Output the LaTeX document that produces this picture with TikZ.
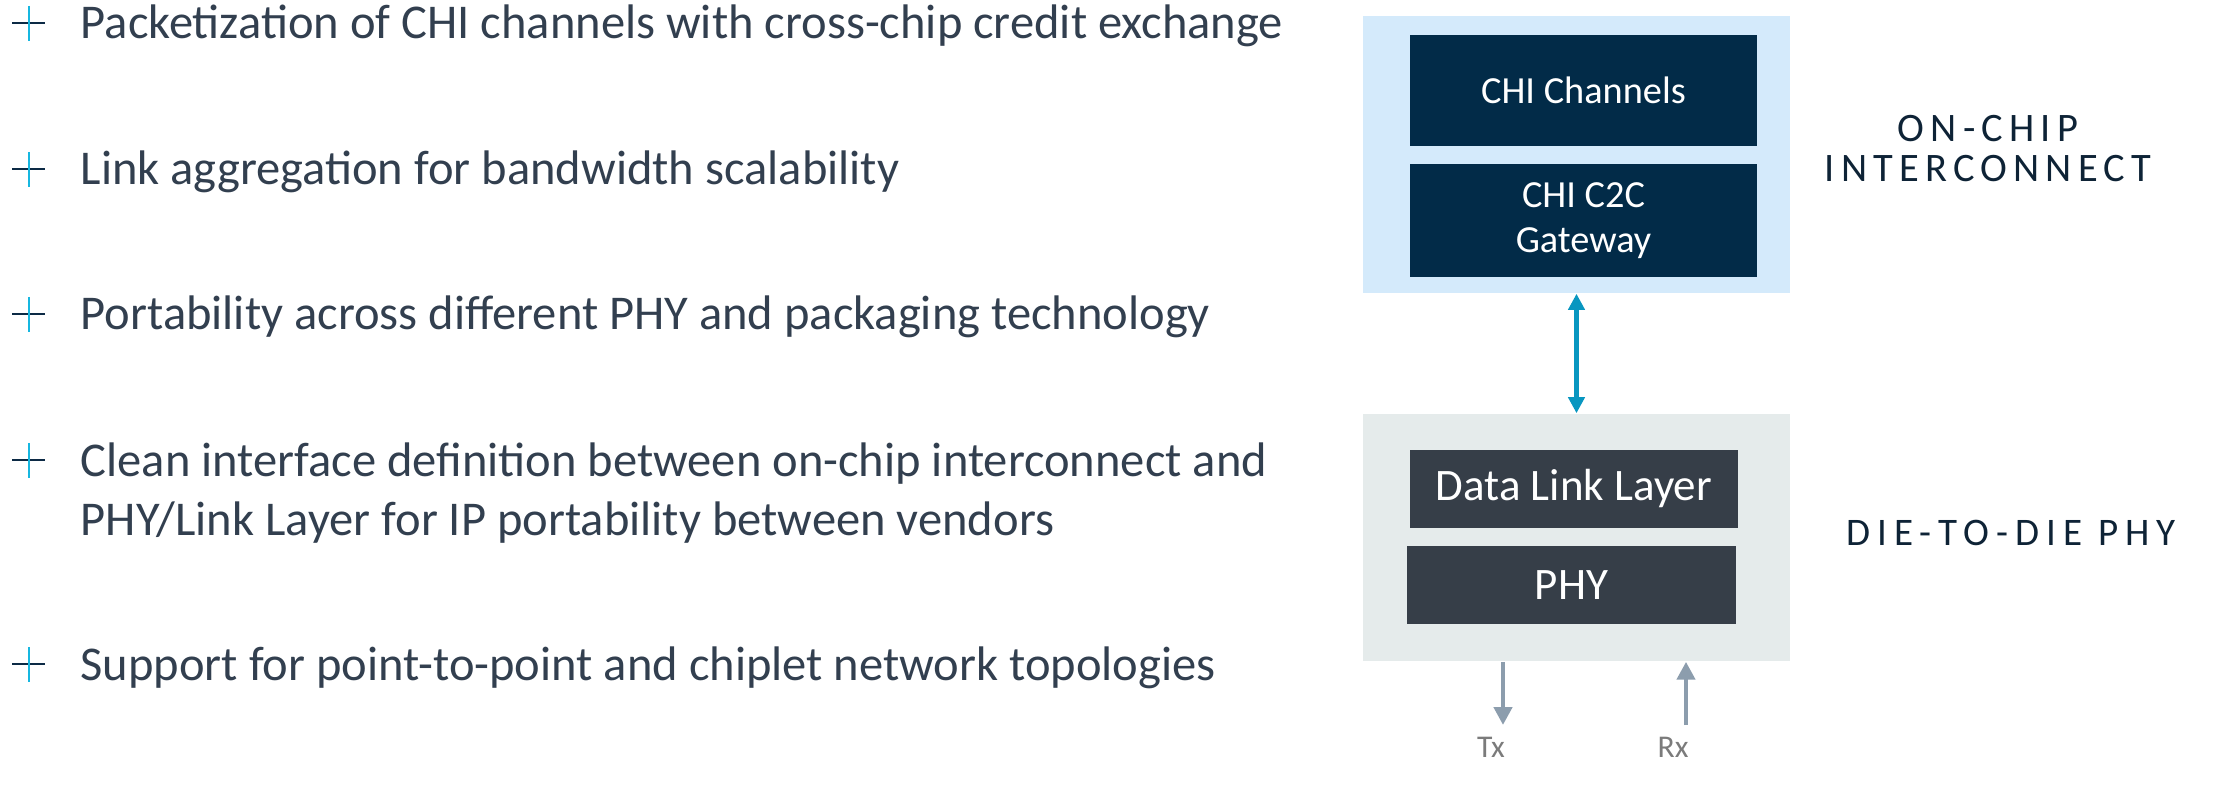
\documentclass[tikz,border=0pt]{standalone}
\usepackage{fontspec}
\setmainfont{Carlito}
\newfontfamily\trackfont[LetterSpace=15.3]{Carlito}
\usetikzlibrary{positioning,arrows.meta}

\definecolor{bodytext}{HTML}{323F4F}
\definecolor{crossnavy}{HTML}{0C2A45}
\definecolor{crosscyan}{HTML}{17B7E0}
\definecolor{chipbg}{HTML}{D4EAFB}
\definecolor{chipbox}{HTML}{022B48}
\definecolor{phybg}{HTML}{E5EBEB}
\definecolor{phybox}{HTML}{363E48}
\definecolor{linkarrow}{HTML}{0896C0}
\definecolor{iogrey}{HTML}{8C9DAD}
\definecolor{labelgrey}{HTML}{7B7B7B}
\definecolor{sidenavy}{HTML}{0E2336}

\begin{document}
\begin{tikzpicture}[
  x=0.01cm, y=-0.01cm,
  point/.style={anchor=base west, inner sep=0pt, text=bodytext, align=left,
                font=\fontsize{13.8}{16.5}\selectfont},
  panel/.style={inner sep=0pt, minimum width=4.27cm},
  block/.style={inner sep=0pt, text=white, align=center},
  side/.style={inner sep=0pt, text=sidenavy, align=center, anchor=base,
               font=\trackfont\fontsize{11.5}{11.4}\selectfont},
  io/.style={iogrey, line width=1.3pt, -{Triangle[width=5.1pt, length=5.1pt]}},
  iolabel/.style={inner sep=0pt, text=labelgrey, anchor=base,
                  font=\fontsize{9}{10}\selectfont},
]
  \useasboundingbox (0,0) rectangle (2223,785);

  \foreach \y in {23,169,314,460,664} {
    \draw[crossnavy, line width=0.85pt] (12,\y) -- (45,\y);
    \draw[crosscyan, line width=0.85pt] (29,\y-17) -- (29,\y+18);
  }

  \node[point] (p1) at (80,39) {Packetization of CHI channels with cross-chip credit exchange};
  \node[point] (p2) at (80,185) {Link aggregation for bandwidth scalability};
  \node[point] (p3) at (80,330) {Portability across different PHY and packaging technology};
  \node[point] (p4) at (80,535) {Clean interface definition between on-chip interconnect and\\
                                 PHY/Link Layer for IP portability between vendors};
  \node[point] (p5) at (80,680) {Support for point-to-point and chiplet network topologies};

  \node[panel, fill=chipbg, minimum height=2.77cm] (chip) at (1576.5,154.5) {};
  \node[block, fill=chipbox, minimum width=3.47cm, minimum height=1.11cm,
        font=\fontsize{10.9}{12.8}\selectfont] (chan) at (1583.5,90.5) {CHI Channels};
  \node[block, fill=chipbox, minimum width=3.47cm, minimum height=1.12cm,
        font=\fontsize{10.9}{12.8}\selectfont, below=0.17cm of chan] (gate)
        {CHI C2C\\Gateway};

  \node[panel, fill=phybg, minimum height=2.47cm] (d2d) at (1576.5,537.5) {};
  \node[block, fill=phybox, minimum width=3.28cm, minimum height=0.78cm,
        font=\fontsize{12.8}{14}\selectfont] (link) at (1574,489) {Data Link Layer};
  \node[block, fill=phybox, minimum width=3.29cm, minimum height=0.78cm,
        font=\fontsize{12.8}{14}\selectfont, below=0.17cm of link,
        xshift=-0.025cm] (phy) {PHY};

  \node[side] (onchip) at (1988,182) {ON-CHIP\\INTERCONNECT};
  \node[side, font=\trackfont\addfontfeature{LetterSpace=18}\fontsize{11.1}{11.4}\selectfont]
       (d2dlabel) at (2011,545) {DIE-TO-DIE PHY};

  \draw[linkarrow, line width=1.4pt,
        {Triangle[width=4.6pt, length=4.6pt]}-{Triangle[width=4.6pt, length=4.6pt]}]
    (chip) -- (d2d);

  \node[iolabel] (tx) at (1491,757) {Tx};
  \node[iolabel] (rx) at (1673,757) {Rx};
  \coordinate (txend) at (1503,725);
  \coordinate (rxend) at (1686,725);
  \draw[io] (d2d.south -| txend) -- (txend);
  \draw[io] (rxend) -- (d2d.south -| rxend);
\end{tikzpicture}
\end{document}
